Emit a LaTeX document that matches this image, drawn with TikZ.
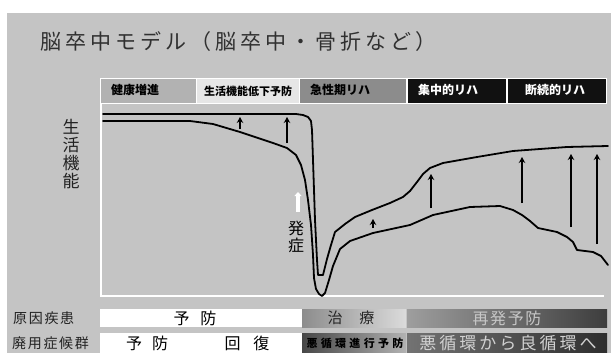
\documentclass[tikz,border=0pt]{standalone}
\usepackage{fontspec}
\setmainfont{Noto Sans CJK JP}
\usetikzlibrary{arrows.meta}
\definecolor{bg}{HTML}{C4C4C4}
\definecolor{titlec}{HTML}{303030}
\definecolor{labc}{HTML}{222222}
\definecolor{hA}{HTML}{B2B2B2}
\definecolor{hB}{HTML}{E6E6E6}
\definecolor{hC}{HTML}{8C8C8C}
\definecolor{hD}{HTML}{111111}
\begin{document}
\begin{tikzpicture}[x=1pt,y=-1pt,
  curve/.style={line width=1.8pt, line join=round, line cap=round, black},
  uparrow/.style={line width=1.8pt, -{Stealth[length=6pt,width=6.5pt]}},
  hdr/.style={anchor=west, inner sep=0, font=\bfseries\fontsize{12}{12}\selectfont},
  lab/.style={anchor=west, inner sep=0, text=labc, font=\fontsize{14}{14}\selectfont\addfontfeatures{LetterSpace=12}},
  cell/.style={anchor=center, inner sep=0, font=\fontsize{16}{16}\selectfont},
  frameline/.style={white, line width=2pt}]
\useasboundingbox (0,0) rectangle (611,353);
\fill[white] (0,0) rectangle (611,353);
\fill[bg] (7,13) rectangle (611,353);

% title
\node[anchor=west, inner sep=0, text=titlec, font=\fontsize{21}{21}\selectfont\addfontfeatures{LetterSpace=19}] (title) at (40,42) {脳卒中モデル（脳卒中・骨折など）};

% header bar
\fill[white] (100,78) rectangle (607,104);
\fill[hA] (101,79) rectangle (196,103);
\fill[hB] (197,79) rectangle (299,103);
\fill[hC] (300,79) rectangle (406,103);
\fill[hD] (408,79) rectangle (506,103);
\fill[hD] (508,79) rectangle (606,103);
\node[hdr] (h1) at (111,90) {健康増進};
\node[hdr, font=\bfseries\fontsize{11}{11}\selectfont] (h2) at (204,91) {生活機能低下予防};
\node[hdr] (h3) at (310,90) {急性期リハ};
\node[hdr, text=white] (h4) at (418,90) {集中的リハ};
\node[hdr, text=white] (h5) at (525,90) {断続的リハ};

% frame
\draw[frameline] (101,104) -- (101,296) -- (604,296);

% y label
\node[inner sep=0, align=center, text=labc, font=\fontsize{17}{18}\selectfont] (ylab) at (71,154) {生\\活\\機\\能};

% upper curve
\draw[curve] plot coordinates {(103,114) (296,114) (303,115) (308,117) (311,121) (312,130) (313,160) (315,220) (317,260) (318,275) (323,275) (327,259) (331,245) (335,232) (345,224) (355,217) (372,210) (390,203) (403,197) (410,191) (417,182) (423,174) (430,168) (443,163) (477,157) (513,151) (567,147) (608,146)};

% lower curve
\draw[curve] plot coordinates {(103,121) (190,121) (213,124) (240,132) (273,143) (287,148) (296,155) (301,165) (305,180) (308,200) (311,225) (313,255) (314,278) (316,289) (319,294) (322,296) (325,293) (329,280) (333,266) (340,249) (350,241) (373,233) (410,225) (433,215) (470,207) (500,206) (513,210) (522,215) (530,221) (538,228) (557,232) (567,237) (573,242) (577,250) (593,252) (601,256) (608,265)};

% arrows
\draw[uparrow] (240,129) -- (240,117);
\draw[uparrow] (287,143) -- (287,117);
\draw[uparrow] (373,228) -- (373,219);
\draw[uparrow] (431,208) -- (431,174);
\draw[uparrow] (522,203) -- (522,157);
\draw[uparrow] (571,227) -- (571,154);
\draw[uparrow] (597,244) -- (597,154);

% onset
\draw[white, line width=3.5pt, -{Triangle[length=4pt,width=7pt]}] (298,212) -- (298,192);
\node[inner sep=0, align=center, font=\fontsize{16}{17}\selectfont] (onset) at (296,237) {発\\症};

% bottom rows
\node[lab] (l1) at (13,318) {原因疾患};
\node[lab] (l2) at (12,343) {廃用症候群};

\fill[white] (100,309) rectangle (302,327);
\shade[left color=black!45, right color=black!14] (302,309) rectangle (406,327);
\shade[left color=black!38, right color=black!76] (407,309) rectangle (607,327);
\fill[white] (100,333) rectangle (302,353);
\shade[left color=black!72, right color=black!30] (302,333) rectangle (406,353);
\shade[left color=black!55, right color=black!82] (407,333) rectangle (607,353);

\node[cell] (c1) at (195,318) {予\hspace{11pt}防};
\node[cell, font=\fontsize{15}{15}\selectfont, text=black!85] (c2) at (351,318) {治\hspace{17pt}療};
\node[cell, text=black!22, font=\fontsize{16}{16}\selectfont\addfontfeatures{LetterSpace=10}] (c3) at (507,318) {再発予防};
\node[cell] (c4) at (147,343) {予\hspace{10pt}防};
\node[cell] (c5) at (247,343) {回\hspace{13pt}復};
\node[cell, font=\bfseries\fontsize{11}{11}\selectfont\addfontfeatures{LetterSpace=30}] (c6) at (355,343) {悪循環進行予防};
\node[cell, text=black!18, font=\fontsize{17}{17}\selectfont\addfontfeatures{LetterSpace=18}] (c7) at (508,343) {悪循環から良循環へ};
\end{tikzpicture}
\end{document}
